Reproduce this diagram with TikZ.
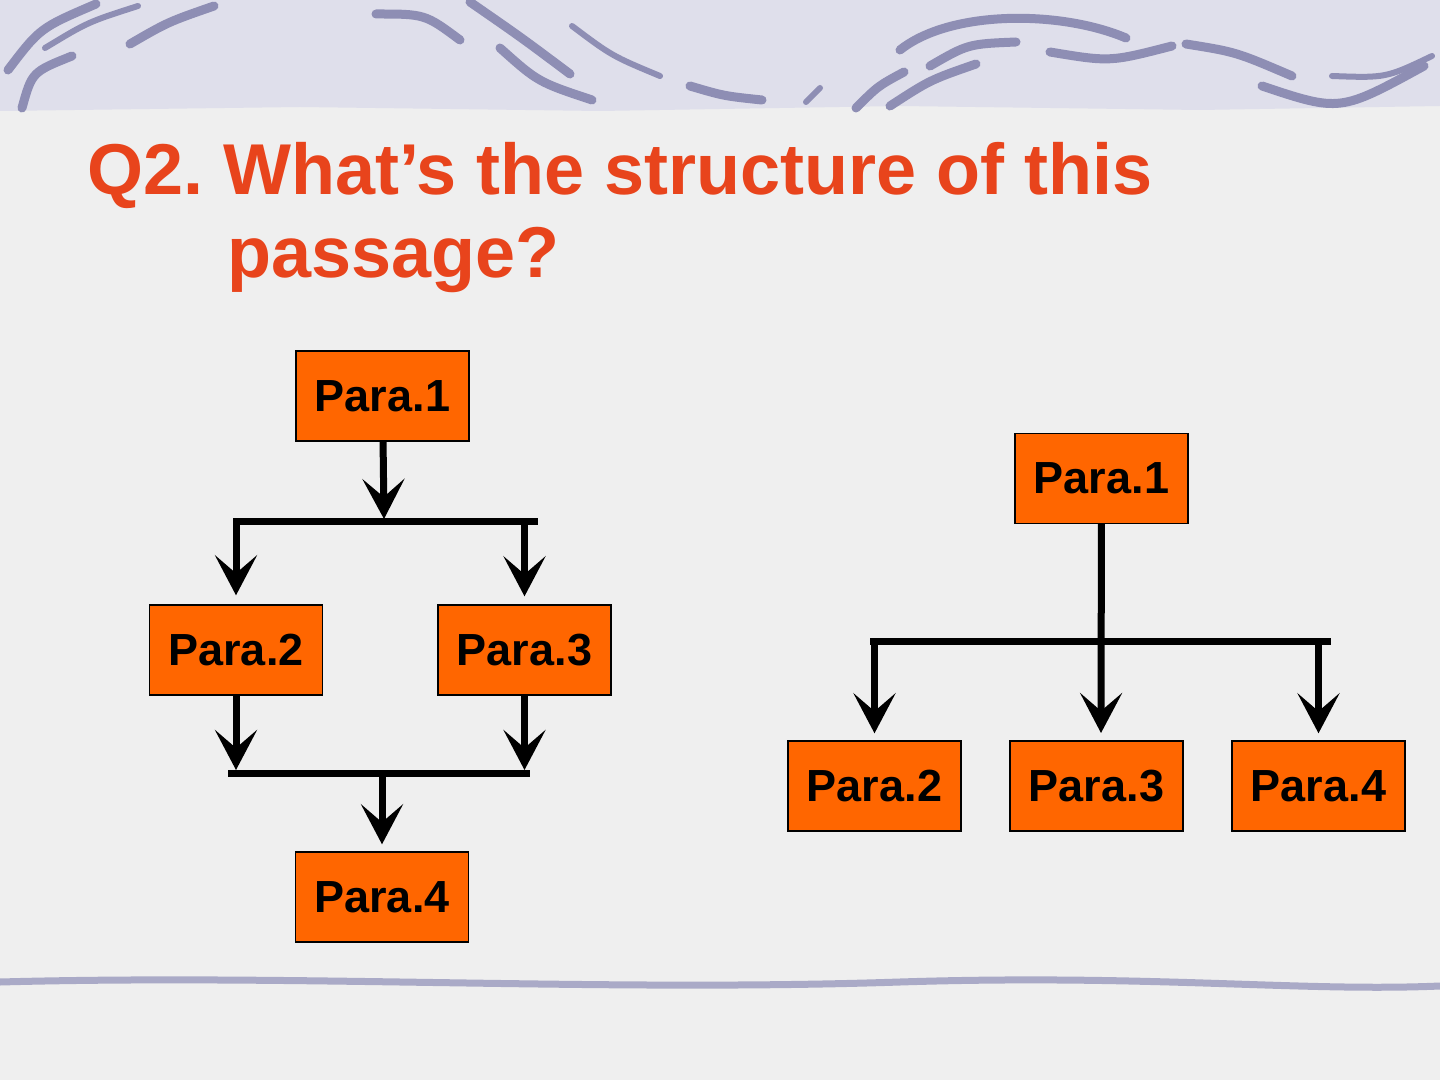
\documentclass[tikz,border=0pt]{standalone}
\usepackage{fontspec}
\setmainfont{Liberation Sans}
\usetikzlibrary{arrows.meta, positioning}

\definecolor{paper}{RGB}{239,239,239}
\definecolor{band}{RGB}{223,223,235}
\definecolor{swirl}{RGB}{142,142,180}
\definecolor{title}{RGB}{232,68,28}
\definecolor{box}{RGB}{255,102,0}

\begin{document}
\frenchspacing
\begin{tikzpicture}[x=0.5pt, y=-0.5pt, node distance = 111pt,
    curl/.style={draw=swirl, line width=4.5pt, line cap=round},
    bar/.style={draw=black, line width=3.5pt}]
    % background
    \fill[paper] (0,0) rectangle (1440,1080);
    \useasboundingbox (0,0) rectangle (1440,1080);
    \fill[band] (0,0) -- (1440,0) -- (1440,106) -- (1200,110) -- (900,106)
        -- (600,111) -- (300,107) -- (0,111) -- cycle;
    \draw[curl] (22,108) .. controls (32,72) .. (72,56);
    \draw[curl] (8,70) .. controls (40,28) .. (96,4);
    \draw[curl, line width=3pt] (45,48) .. controls (88,22) .. (138,6);
    \draw[curl] (130,44) .. controls (168,22) .. (214,6);
    \draw[curl] (376,14) .. controls (425,14) .. (460,40);
    \draw[curl] (470,2) .. controls (522,38) .. (570,74);
    \draw[curl] (500,48) .. controls (538,82) .. (592,100);
    \draw[curl, line width=3pt] (572,26) .. controls (612,56) .. (660,76);
    \draw[curl] (690,86) .. controls (724,96) .. (762,100);
    \draw[curl, line width=3pt] (806,102) .. controls (812,96) .. (820,88);
    \draw[curl] (856,108) .. controls (878,86) .. (904,72);
    \draw[curl] (890,106) .. controls (930,80) .. (976,64);
    \draw[curl] (900,50) .. controls (950,10) and (1060,10) .. (1126,38);
    \draw[curl] (930,66) .. controls (968,44) .. (1016,42);
    \draw[curl] (1050,52) .. controls (1110,62) .. (1172,46);
    \draw[curl] (1186,44) .. controls (1236,52) .. (1292,76);
    \draw[curl] (1262,86) .. controls (1340,112) .. (1424,66);
    \draw[curl, line width=3pt] (1332,76) .. controls (1386,78) .. (1432,56);
    % bottom rule
    \draw[draw=swirl!75, line width=3.5pt] (0,982) .. controls (300,974) and (600,992) .. (900,982)
        .. controls (1150,974) and (1300,992) .. (1440,986);

    % title
    \begin{scope}[every node/.style={anchor=base west, inner sep=0pt, text=title,
        font=\fontsize{36}{41.5}\selectfont\bfseries}]
        \node (T1) at (87,195) {Q2. What’s the structure of this};
        \node (T2) at (227,278) {passage?};
    \end{scope}

    % boxes
    \begin{scope}[every node/.style={rectangle, draw=black, line width=0.7pt, fill=box,
        minimum width=86.5pt, minimum height=45pt, inner sep=0pt,
        font=\fontsize{22.5}{27}\selectfont\bfseries}]
        \node (A) at (382.5,396) {Para.1};
        \node (B) at (236,650) {Para.2};
        \node (C) at (524.5,650) {Para.3};
        \node (D) at (382,897) {Para.4};

        \node (P) at (1101.5,478.5) {Para.1};
        \node (Q) at (874.5,786) {Para.2};
        \node (R) [right of = Q] {Para.3};
        \node (S) [right of = R] {Para.4};
    \end{scope}

    % bars
    \coordinate (j1) at (384,519);
    \coordinate (h1) at (233,521);
    \coordinate (h2) at (538,521);
    \coordinate (h3) at (228,773);
    \coordinate (h4) at (530,773);
    \coordinate (k1) at (870,641);
    \coordinate (k2) at (1331,641);
    \coordinate (k3) at (1101,733);
    \draw[bar] (h1) -- (h2);
    \draw[bar] (h3) -- (h4);
    \draw[bar] (k1) -- (k2);

    % arrows
    \begin{scope}[every edge/.style={draw=black, line width=3.5pt,
        -{Stealth[length=20pt, width=21pt, inset=9pt]}}]
        \path (A) edge (j1);
        \path (h1 -| B) edge [shorten >=4.5pt] (B);
        \path (h1 -| C) edge [shorten >=4pt] (C);
        \path (B) edge [shorten >=1.5pt] (B |- h3);
        \path (C) edge [shorten >=1.5pt] (C |- h3);
        \path (h3 -| D) edge [shorten >=3.5pt] (D);

        \path (P) edge (k3);
        \path (k1 -| Q) edge [shorten >=3.5pt] (Q);
        \path (k1 -| S) edge [shorten >=3.5pt] (S);
    \end{scope}
\end{tikzpicture}
\end{document}
